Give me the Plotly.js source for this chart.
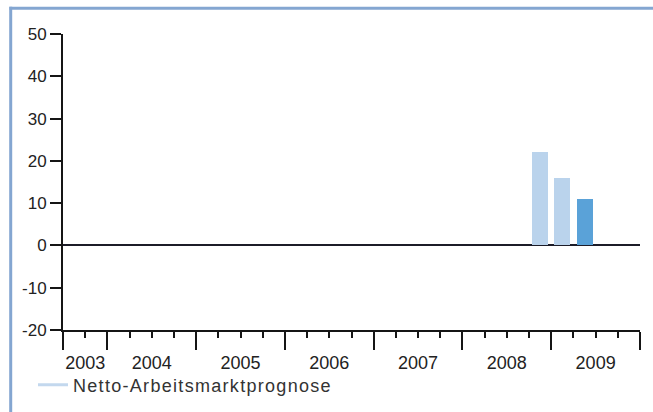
<!DOCTYPE html>
<html>
<head>
<meta charset="utf-8">
<script src="https://cdn.plot.ly/plotly-3.0.1.min.js"></script>
<style>
html,body{margin:0;padding:0;background:#fff;}
#chart{width:653px;height:412px;}
.legendtext{letter-spacing:1.3px;}
</style>
</head>
<body>
<div id="chart"></div>
<script>
// ---- data ----
var quarters = ["2008-Q4", "2009-Q1", "2009-Q2"];
var values = [22, 16, 11];
var barColors = ["#bad3ec", "#bad3ec", "#5aa2d8"];
var yearLabels = ["2003", "2004", "2005", "2006", "2007", "2008", "2009"];
var legendName = "Netto-Arbeitsmarktprognose";
var yTicks = [-20, -10, 0, 10, 20, 30, 40, 50];
var yTickText = ["-20", "-10", "0", "10", "20", "30", "40", "50"];

// quarter label -> position on a continuous year axis (centre of the quarter)
function qPos(q) {
  var p = q.split("-Q");
  return Number(p[0]) + (Number(p[1]) - 0.5) / 4;
}
var xPos = quarters.map(qPos);

var axStart = 2003.5, axEnd = 2010;
var yearStarts = [];
for (var y = 2004; y <= 2010; y++) yearStarts.push(y);
var majorTicks = [axStart].concat(yearStarts);
var labelPos = yearLabels.map(function (s) {
  var y = Number(s);
  var a = Math.max(y, axStart), b = Math.min(y + 1, axEnd);
  return (a + b) / 2;
});

var W = 653, H = 412, ML = 63, MR = 13, MT = 34, MB = 82;
var PW = W - ML - MR, PH = H - MT - MB;
function px2x(px) { return (px - ML) / PW; }
function px2y(py) { return (H - MB - py) / PH; }

var font = "Liberation Sans, Arial, Helvetica, sans-serif";
var axisColor = "#151515";

var traces = [
  {
    type: "bar",
    x: xPos,
    y: values,
    width: 0.18,
    marker: { color: barColors, line: { width: 0 } },
    showlegend: false,
    hoverinfo: "skip"
  },
  {
    type: "scatter",
    mode: "lines",
    x: [null],
    y: [null],
    xaxis: "x2",
    name: legendName,
    line: { color: "#c3d8ee", width: 3 },
    showlegend: true
  }
];

var layout = {
  width: W,
  height: H,
  margin: { l: ML, r: MR, t: MT, b: MB, pad: 0, autoexpand: false },
  paper_bgcolor: "#ffffff",
  plot_bgcolor: "#ffffff",
  font: { family: font, size: 17, color: "#222222" },
  bargap: 0,
  xaxis: {
    range: [axStart, axEnd],
    tickmode: "array",
    tickvals: majorTicks,
    showticklabels: false,
    ticks: "outside",
    ticklen: 18,
    tickwidth: 2,
    tickcolor: axisColor,
    showline: true,
    linewidth: 2,
    linecolor: axisColor,
    showgrid: false,
    zeroline: false,
    fixedrange: true,
    minor: {
      tickmode: "linear",
      tick0: axStart,
      dtick: 0.25,
      ticks: "outside",
      ticklen: 6,
      tickwidth: 2,
      tickcolor: axisColor,
      showgrid: false
    }
  },
  xaxis2: {
    overlaying: "x",
    anchor: "y",
    side: "bottom",
    range: [axStart, axEnd],
    tickmode: "array",
    tickvals: labelPos,
    ticktext: yearLabels,
    ticks: "outside",
    ticklen: 16,
    tickcolor: "rgba(0,0,0,0)",
    tickfont: { family: font, size: 18, color: "#222222" },
    showline: false,
    showgrid: false,
    zeroline: false,
    fixedrange: true
  },
  yaxis: {
    range: [-20, 50],
    tickmode: "array",
    tickvals: yTicks,
    ticktext: yTickText,
    ticks: "outside",
    ticklen: 11,
    tickwidth: 2,
    tickcolor: axisColor,
    tickfont: { family: font, size: 17, color: "#222222" },
    showline: true,
    linewidth: 2,
    linecolor: axisColor,
    showgrid: false,
    zeroline: true,
    zerolinecolor: "#1c1c28",
    zerolinewidth: 2,
    fixedrange: true
  },
  showlegend: true,
  legend: {
    orientation: "h",
    x: px2x(33),
    xanchor: "left",
    y: px2y(385),
    yanchor: "middle",
    bgcolor: "rgba(0,0,0,0)",
    font: { family: font, size: 18, color: "#333333" },
    itemwidth: 30
  },
  shapes: [
    {
      type: "line", xref: "paper", yref: "paper",
      x0: px2x(9.5), x1: px2x(660), y0: px2y(8.2), y1: px2y(8.2),
      line: { color: "#84a6d1", width: 3 }
    },
    {
      type: "line", xref: "paper", yref: "paper",
      x0: px2x(10.7), x1: px2x(10.7), y0: px2y(6.7), y1: px2y(420),
      line: { color: "#84a6d1", width: 3 }
    }
  ]
};

Plotly.newPlot("chart", traces, layout, { displayModeBar: false, staticPlot: true });
</script>
</body>
</html>
